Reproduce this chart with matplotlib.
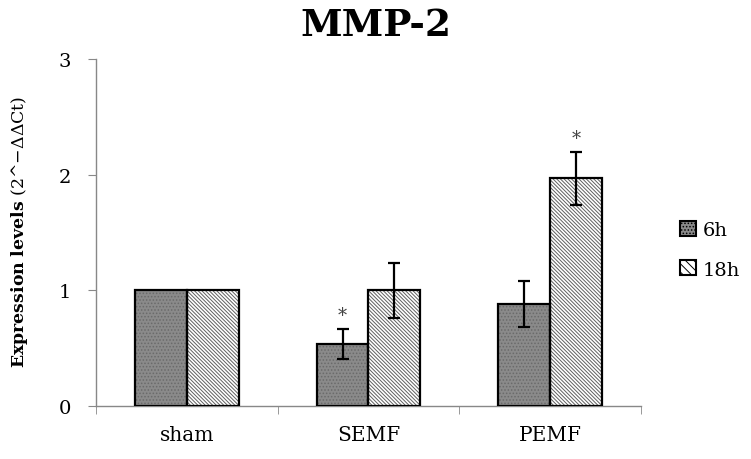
import matplotlib
matplotlib.use('Agg')
import matplotlib.pyplot as plt
import numpy as np
from matplotlib.patches import Patch

# values
groups = ['sham', 'SEMF', 'PEMF']
series = ['6h', '18h']
mean_6h = [1.0, 0.54, 0.88]
err_6h = [0.0, 0.13, 0.20]
mean_18h = [1.0, 1.0, 1.97]
err_18h = [0.0, 0.24, 0.23]
star_6h = [False, True, False]
star_18h = [False, False, True]

plt.rcParams['font.family'] = ['DejaVu Serif']
plt.rcParams['mathtext.fontset'] = 'dejavuserif'
plt.rcParams['hatch.linewidth'] = 0.7

fig = plt.figure(figsize=(7.51, 4.60), dpi=100)
ax = fig.add_axes([0.1278, 0.1152, 0.7257, 0.7544])

x = np.arange(len(groups))
w = 0.285
hatch_18h = '\\' * 9

# 6h: gray with fine dot texture
ax.bar(x - w/2, mean_6h, w, color='#8a8a8a', edgecolor='#6a6a6a', hatch='.....', linewidth=0, zorder=2)
ax.bar(x - w/2, mean_6h, w, fill=False, edgecolor='black', linewidth=1.6, zorder=3)
# 18h: white with diagonal hatching
ax.bar(x + w/2, mean_18h, w, color='white', edgecolor='#606060', hatch=hatch_18h, linewidth=0, zorder=2)
ax.bar(x + w/2, mean_18h, w, fill=False, edgecolor='black', linewidth=1.6, zorder=3)

for xs, m, e, st in [(x - w/2, mean_6h, err_6h, star_6h), (x + w/2, mean_18h, err_18h, star_18h)]:
    for xi, mi, ei, s in zip(xs, m, e, st):
        if ei > 0:
            ax.errorbar(xi, mi, yerr=ei, fmt='none', ecolor='black', elinewidth=1.6,
                        capsize=4, capthick=1.6, zorder=4)
        if s:
            ax.text(xi, mi + ei + 0.04, '*', ha='center', va='bottom', fontsize=13, color='#444444')

ax.set_xlim(-0.5, 2.5)
ax.set_ylim(0, 3)
ax.set_yticks([0, 1, 2, 3])
ax.set_xticks(x)
ax.set_xticklabels(groups)
ax.set_xticks([-0.5, 0.5, 1.5, 2.5], minor=True)
ax.tick_params(axis='x', which='major', length=0, pad=14, labelsize=14.5)
ax.tick_params(axis='x', which='minor', length=6, color='#888888', direction='out')
ax.tick_params(axis='y', length=6, color='#888888', pad=12, labelsize=14)
for sp in ['top', 'right']:
    ax.spines[sp].set_visible(False)
for sp in ['left', 'bottom']:
    ax.spines[sp].set_color('#888888')
    ax.spines[sp].set_linewidth(1.0)

fig.text(0.026, 0.495, r'$\mathbf{Expression\ levels}$ (2^$-\Delta\Delta$Ct)', rotation=90,
         ha='center', va='center', fontsize=12.5)

fig.suptitle('MMP-2', x=0.5, y=0.985, fontsize=27, fontweight='bold')

handles = [Patch(facecolor='#8a8a8a', edgecolor='black', hatch='.....', linewidth=1.5),
           Patch(facecolor='white', edgecolor='black', hatch='\\\\\\\\', linewidth=1.5)]
fig.legend(handles, series, loc='center left', bbox_to_anchor=(0.906, 0.455), frameon=False,
           fontsize=14, handlelength=0.8, handleheight=0.8, handletextpad=0.35, labelspacing=1.1,
           borderpad=0, borderaxespad=0)

fig.savefig('out.png', dpi=100)
